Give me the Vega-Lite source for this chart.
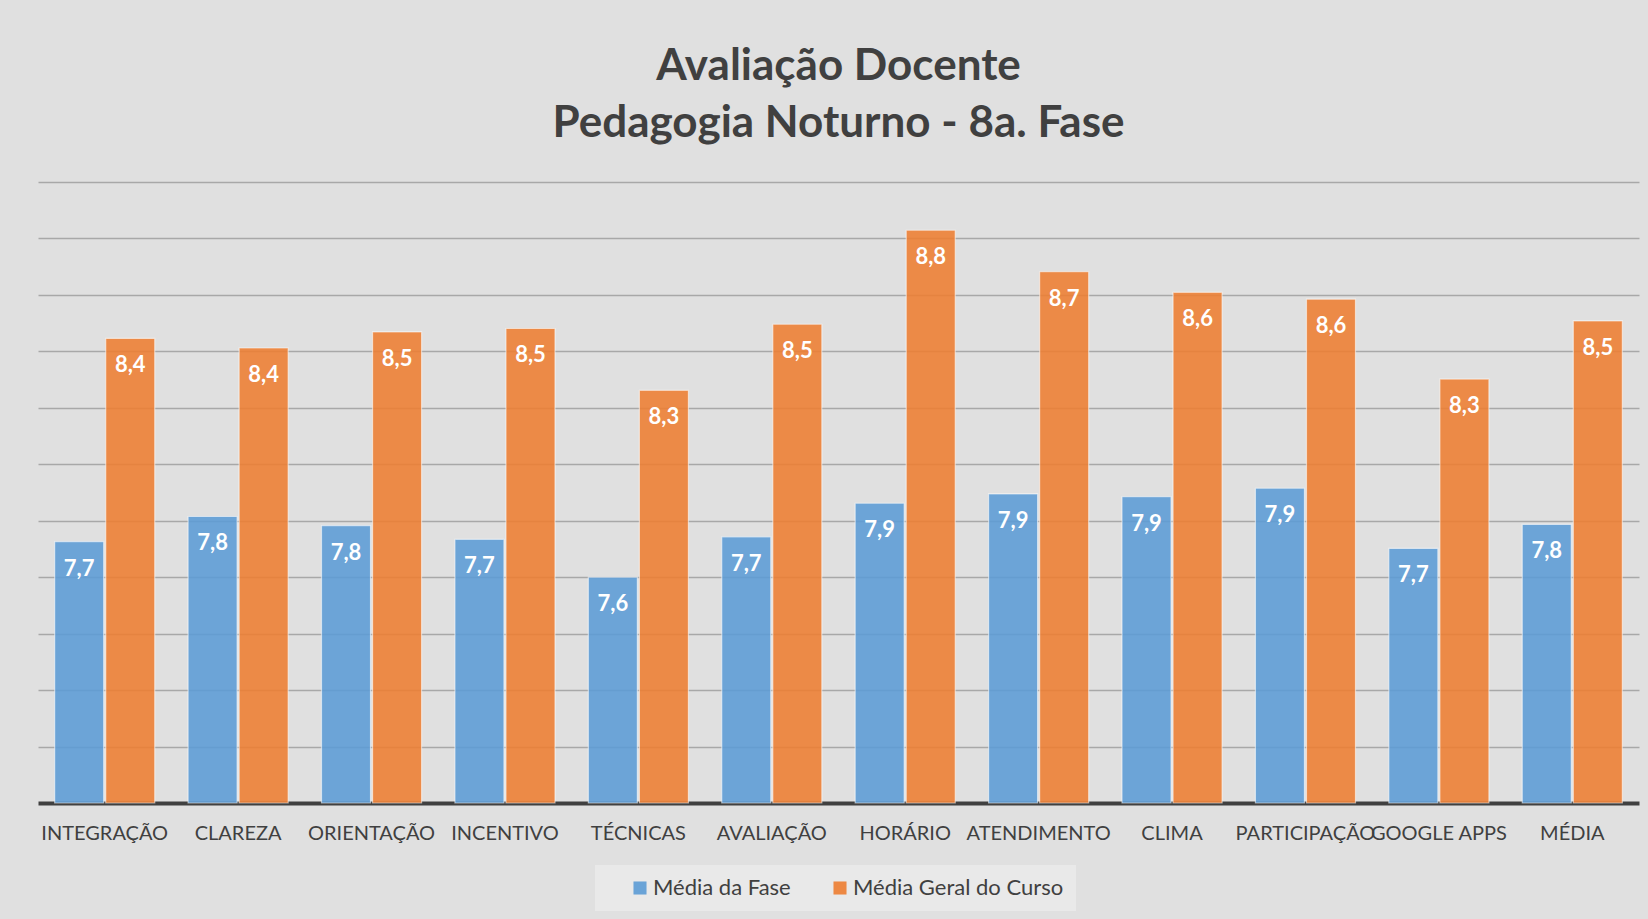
{
  "$schema": "https://vega.github.io/schema/vega-lite/v6.json",
  "width": 1601,
  "height": 621,
  "autosize": {"type": "none"},
  "padding": {"left": 38, "top": 182, "right": 9, "bottom": 116},
  "background": "#e0e0e0",
  "title": {
    "text": ["Avaliação Docente", "Pedagogia Noturno - 8a. Fase"],
    "font": "Lato",
    "fontSize": 44,
    "fontWeight": "bold",
    "color": "#404040",
    "lineHeight": 57,
    "offset": 36,
    "anchor": "middle"
  },
  "data": {
    "values": [
      {"criterio": "INTEGRAÇÃO", "serie": "Média da Fase", "nota": 7.726},
      {"criterio": "INTEGRAÇÃO", "serie": "Média Geral do Curso", "nota": 8.446},
      {"criterio": "CLAREZA", "serie": "Média da Fase", "nota": 7.815},
      {"criterio": "CLAREZA", "serie": "Média Geral do Curso", "nota": 8.412},
      {"criterio": "ORIENTAÇÃO", "serie": "Média da Fase", "nota": 7.783},
      {"criterio": "ORIENTAÇÃO", "serie": "Média Geral do Curso", "nota": 8.469},
      {"criterio": "INCENTIVO", "serie": "Média da Fase", "nota": 7.734},
      {"criterio": "INCENTIVO", "serie": "Média Geral do Curso", "nota": 8.481},
      {"criterio": "TÉCNICAS", "serie": "Média da Fase", "nota": 7.6},
      {"criterio": "TÉCNICAS", "serie": "Média Geral do Curso", "nota": 8.262},
      {"criterio": "AVALIAÇÃO", "serie": "Média da Fase", "nota": 7.743},
      {"criterio": "AVALIAÇÃO", "serie": "Média Geral do Curso", "nota": 8.496},
      {"criterio": "HORÁRIO", "serie": "Média da Fase", "nota": 7.862},
      {"criterio": "HORÁRIO", "serie": "Média Geral do Curso", "nota": 8.829},
      {"criterio": "ATENDIMENTO", "serie": "Média da Fase", "nota": 7.895},
      {"criterio": "ATENDIMENTO", "serie": "Média Geral do Curso", "nota": 8.682},
      {"criterio": "CLIMA", "serie": "Média da Fase", "nota": 7.885},
      {"criterio": "CLIMA", "serie": "Média Geral do Curso", "nota": 8.609},
      {"criterio": "PARTICIPAÇÃO", "serie": "Média da Fase", "nota": 7.915},
      {"criterio": "PARTICIPAÇÃO", "serie": "Média Geral do Curso", "nota": 8.585},
      {"criterio": "GOOGLE APPS", "serie": "Média da Fase", "nota": 7.702},
      {"criterio": "GOOGLE APPS", "serie": "Média Geral do Curso", "nota": 8.302},
      {"criterio": "MÉDIA", "serie": "Média da Fase", "nota": 7.787},
      {"criterio": "MÉDIA", "serie": "Média Geral do Curso", "nota": 8.508}
    ]
  },
  "encoding": {
    "x": {
      "field": "criterio",
      "type": "nominal",
      "sort": null,
      "scale": {"paddingInner": 0.25, "paddingOuter": 0.125},
      "axis": {
        "title": null,
        "labelAngle": 0,
        "labelFont": "Lato",
        "labelFontSize": 20,
        "labelColor": "#404040",
        "labelPadding": 20,
        "ticks": false,
        "domainColor": "#404040",
        "domainWidth": 4,
        "labelOverlap": false,
        "labelLimit": 300,
        "grid": false
      }
    },
    "xOffset": {
      "field": "serie",
      "type": "nominal",
      "sort": ["Média da Fase", "Média Geral do Curso"],
      "scale": {"paddingInner": 0.04, "paddingOuter": 0}
    },
    "y": {
      "field": "nota",
      "type": "quantitative",
      "scale": {"domain": [6.8, 9.0], "zero": false, "nice": false},
      "axis": {
        "title": null,
        "labels": false,
        "ticks": false,
        "domain": false,
        "grid": true,
        "gridColor": "#a8a8a8",
        "gridWidth": 1.5,
        "values": [7.0, 7.2, 7.4, 7.6, 7.8, 8.0, 8.2, 8.4, 8.6, 8.8, 9.0]
      }
    }
  },
  "layer": [
    {
      "mark": {"type": "bar", "fillOpacity": 0.88, "stroke": "white", "strokeWidth": 1.2, "strokeOpacity": 0.55},
      "encoding": {
        "y2": {"datum": 6.8},
        "color": {
          "field": "serie",
          "type": "nominal",
          "scale": {"domain": ["Média da Fase", "Média Geral do Curso"], "range": ["#5B9BD5", "#ED7D31"]},
          "legend": {
            "orient": "none",
            "legendX": 557,
            "legendY": 683,
            "direction": "horizontal",
            "title": null,
            "fillColor": "#e9e9e9",
            "padding": 12,
            "labelFont": "Lato",
            "labelFontSize": 22,
            "labelColor": "#404040",
            "labelLimit": 400,
            "symbolType": "square",
            "symbolSize": 170,
            "symbolOffset": 22,
            "columnPadding": 16,
            "labelOffset": 2,
            "symbolStrokeWidth": 0,
            "symbolOpacity": 0.9
          }
        }
      }
    },
    {
      "mark": {"type": "text", "baseline": "alphabetic", "dy": 34, "font": "Lato", "fontSize": 22, "fontWeight": "bold", "color": "white"},
      "encoding": {
        "text": {"field": "nota", "type": "quantitative", "format": ".1f"}
      }
    }
  ],
  "config": {
    "locale": {"number": {"decimal": ",", "thousands": ".", "grouping": [3], "currency": ["R$", ""]}},
    "view": {"stroke": null}
  }
}
